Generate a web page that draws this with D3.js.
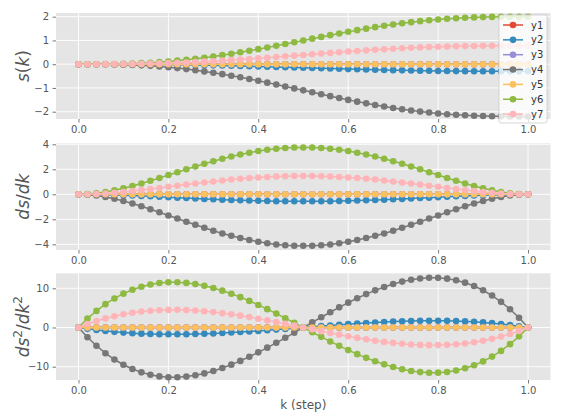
<!DOCTYPE html>
<html>
<head>
<meta charset="utf-8">
<script src="https://cdn.jsdelivr.net/npm/d3@7"></script>
<style>
  html, body { margin: 0; padding: 0; background: #ffffff; }
  svg { display: block; }
  text { font-family: "DejaVu Sans", sans-serif; }
</style>
</head>
<body>
<svg id="chart" width="564" height="417"></svg>
<script>
// ---------------- data ----------------
const kValues = [0,0.02,0.04,0.06,0.08,0.1,0.12,0.14,0.16,0.18,0.2,0.22,0.24,0.26,0.28,0.3,0.32,0.34,0.36,0.38,0.4,0.42,0.44,0.46,0.48,0.5,0.52,0.54,0.56,0.58,0.6,0.62,0.64,0.66,0.68,0.7,0.72,0.74,0.76,0.78,0.8,0.82,0.84,0.86,0.88,0.9,0.92,0.94,0.96,0.98,1];

const seriesNames = ["y1","y2","y3","y4","y5","y6","y7"];
const seriesColors = ["#E24A33","#348ABD","#988ED5","#777777","#FBC15E","#8EBA42","#FFB5B8"];

const flatZero = [0,0,0,0,0,0,0,0,0,0,0,0,0,0,0,0,0,0,0,0,0,0,0,0,0,0,0,0,0,0,0,0,0,0,0,0,0,0,0,0,0,0,0,0,0,0,0,0,0,0,0];

// panel 1: s(k)
const sY2 = [0,0,0,-0.001,-0.001,-0.003,-0.004,-0.007,-0.010,-0.013,-0.017,-0.022,-0.028,-0.034,-0.041,-0.049,-0.057,-0.066,-0.075,-0.085,-0.095,-0.106,-0.117,-0.128,-0.139,-0.150,-0.161,-0.172,-0.183,-0.194,-0.205,-0.215,-0.225,-0.234,-0.243,-0.251,-0.259,-0.266,-0.272,-0.278,-0.283,-0.287,-0.290,-0.293,-0.296,-0.297,-0.299,-0.299,-0.300,-0.300,-0.300];
const sY4 = [0,0,-0.001,-0.004,-0.010,-0.019,-0.032,-0.048,-0.070,-0.096,-0.127,-0.164,-0.205,-0.252,-0.303,-0.359,-0.419,-0.484,-0.552,-0.624,-0.698,-0.776,-0.855,-0.936,-1.018,-1.100,-1.182,-1.264,-1.345,-1.424,-1.502,-1.576,-1.648,-1.716,-1.781,-1.841,-1.897,-1.948,-1.995,-2.036,-2.073,-2.104,-2.130,-2.152,-2.168,-2.181,-2.190,-2.196,-2.199,-2.200,-2.200];
const sY6 = [0,0,0.001,0.004,0.009,0.017,0.029,0.044,0.064,0.087,0.116,0.149,0.187,0.229,0.275,0.326,0.381,0.440,0.502,0.567,0.635,0.705,0.777,0.851,0.925,1.000,1.075,1.149,1.223,1.295,1.365,1.433,1.498,1.560,1.619,1.674,1.725,1.771,1.813,1.851,1.884,1.913,1.936,1.956,1.971,1.983,1.991,1.996,1.999,2.000,2.000];
const sY7 = [0,0,0,0.002,0.004,0.007,0.011,0.017,0.025,0.034,0.045,0.058,0.073,0.089,0.107,0.127,0.149,0.171,0.196,0.221,0.248,0.275,0.303,0.332,0.361,0.390,0.419,0.448,0.477,0.505,0.532,0.559,0.584,0.609,0.631,0.653,0.673,0.691,0.707,0.722,0.735,0.746,0.755,0.763,0.769,0.773,0.776,0.778,0.780,0.780,0.780];

// panel 2: ds/dk
const dY2 = [0,0,-0.01,-0.03,-0.05,-0.07,-0.10,-0.13,-0.16,-0.20,-0.23,-0.27,-0.30,-0.33,-0.37,-0.40,-0.43,-0.45,-0.48,-0.50,-0.52,-0.53,-0.55,-0.56,-0.56,-0.56,-0.56,-0.56,-0.55,-0.53,-0.52,-0.50,-0.48,-0.45,-0.43,-0.40,-0.37,-0.33,-0.30,-0.27,-0.23,-0.20,-0.16,-0.13,-0.10,-0.07,-0.05,-0.03,-0.01,0,0];
const dY4 = [0,-0.03,-0.10,-0.21,-0.36,-0.53,-0.74,-0.96,-1.19,-1.44,-1.69,-1.94,-2.20,-2.44,-2.68,-2.91,-3.13,-3.32,-3.50,-3.66,-3.80,-3.92,-4.01,-4.07,-4.11,-4.12,-4.11,-4.07,-4.01,-3.92,-3.80,-3.66,-3.50,-3.32,-3.13,-2.91,-2.68,-2.44,-2.20,-1.94,-1.69,-1.44,-1.19,-0.96,-0.74,-0.53,-0.36,-0.21,-0.10,-0.03,0];
const dY6 = [0,0.02,0.09,0.19,0.33,0.49,0.67,0.87,1.08,1.31,1.54,1.77,2.00,2.22,2.44,2.65,2.84,3.02,3.19,3.33,3.46,3.56,3.64,3.70,3.74,3.75,3.74,3.70,3.64,3.56,3.46,3.33,3.19,3.02,2.84,2.65,2.44,2.22,2.00,1.77,1.54,1.31,1.08,0.87,0.67,0.49,0.33,0.19,0.09,0.02,0];
const dY7 = [0,0.01,0.03,0.07,0.13,0.19,0.26,0.34,0.42,0.51,0.60,0.69,0.78,0.87,0.95,1.03,1.11,1.18,1.24,1.30,1.35,1.39,1.42,1.44,1.46,1.46,1.46,1.44,1.42,1.39,1.35,1.30,1.24,1.18,1.11,1.03,0.95,0.87,0.78,0.69,0.60,0.51,0.42,0.34,0.26,0.19,0.13,0.07,0.03,0.01,0];

// panel 3: ds^2/dk^2
const ddY2 = [0,-0.34,-0.64,-0.89,-1.11,-1.30,-1.44,-1.56,-1.65,-1.70,-1.73,-1.73,-1.71,-1.66,-1.60,-1.51,-1.41,-1.29,-1.16,-1.02,-0.86,-0.70,-0.53,-0.36,-0.18,0,0.18,0.36,0.53,0.70,0.86,1.02,1.16,1.29,1.41,1.51,1.60,1.66,1.71,1.73,1.73,1.70,1.65,1.56,1.44,1.30,1.11,0.89,0.64,0.34,0];
const ddY4 = [0,-2.48,-4.66,-6.55,-8.16,-9.50,-10.59,-11.44,-12.06,-12.47,-12.67,-12.68,-12.52,-12.19,-11.71,-11.09,-10.34,-9.48,-8.52,-7.46,-6.34,-5.14,-3.90,-2.62,-1.32,0,1.32,2.62,3.90,5.14,6.34,7.46,8.52,9.48,10.34,11.09,11.71,12.19,12.52,12.68,12.67,12.47,12.06,11.44,10.59,9.50,8.16,6.55,4.66,2.48,0];
const ddY6 = [0,2.26,4.24,5.96,7.42,8.64,9.63,10.40,10.97,11.34,11.52,11.53,11.38,11.08,10.64,10.08,9.40,8.62,7.74,6.79,5.76,4.68,3.55,2.38,1.20,0,-1.20,-2.38,-3.55,-4.68,-5.76,-6.79,-7.74,-8.62,-9.40,-10.08,-10.64,-11.08,-11.38,-11.53,-11.52,-11.34,-10.97,-10.40,-9.63,-8.64,-7.42,-5.96,-4.24,-2.26,0];
const ddY7 = [0,0.88,1.65,2.32,2.89,3.37,3.76,4.06,4.28,4.42,4.49,4.50,4.44,4.32,4.15,3.93,3.67,3.36,3.02,2.65,2.25,1.82,1.38,0.93,0.47,0,-0.47,-0.93,-1.38,-1.82,-2.25,-2.65,-3.02,-3.36,-3.67,-3.93,-4.15,-4.32,-4.44,-4.50,-4.49,-4.42,-4.28,-4.06,-3.76,-3.37,-2.89,-2.32,-1.65,-0.88,0];

const xTicks = [0,0.2,0.4,0.6,0.8,1.0];
const yTicksS = [-2,-1,0,1,2];
const yTicksD = [-4,-2,0,2,4];
const yTicksDD = [-10,0,10];
const xLabelText = "k (step)";

// ---------------- layout ----------------
const svg = d3.select("#chart");
const plotLeft = 56, plotRight = 550.5;
const x = d3.scaleLinear().domain([-0.05, 1.05]).range([plotLeft, plotRight]);
const fmtX = d3.format(".1f");
const fmtY = v => (v < 0 ? "\u2212" + Math.abs(v) : String(v));

const panels = [
  { top: 13, bottom: 119, domain: [-2.307, 2.156], ticks: yTicksS,
    series: [flatZero, sY2, flatZero, sY4, flatZero, sY6, sY7],
    label: [["s","italic"],["(","normal"],["k","italic"],[")","normal"]], legend: true },
  { top: 143.3, bottom: 250, domain: [-4.456, 4.08], ticks: yTicksD,
    series: [flatZero, dY2, flatZero, dY4, flatZero, dY6, dY7],
    label: [["ds","italic"],["/","normal"],["dk","italic"]] },
  { top: 273.3, bottom: 380, domain: [-13.39, 13.83], ticks: yTicksDD,
    series: [flatZero, ddY2, flatZero, ddY4, flatZero, ddY6, ddY7],
    label: [["ds","italic"],["2","sup"],["/","normal"],["dk","italic"],["2","sup"]] }
];

const tickColor = "#555555";

panels.forEach((p, pi) => {
  const y = d3.scaleLinear().domain(p.domain).range([p.bottom, p.top]);
  const g = svg.append("g");

  // background
  g.append("rect").attr("x", plotLeft).attr("y", p.top)
    .attr("width", plotRight - plotLeft).attr("height", p.bottom - p.top)
    .attr("fill", "#E5E5E5");

  // grid
  g.selectAll(".gx").data(xTicks).join("line")
    .attr("x1", d => x(d)).attr("x2", d => x(d))
    .attr("y1", p.top).attr("y2", p.bottom)
    .attr("stroke", "#ffffff").attr("stroke-width", 0.9);
  g.selectAll(".gy").data(p.ticks).join("line")
    .attr("x1", plotLeft).attr("x2", plotRight)
    .attr("y1", d => y(d)).attr("y2", d => y(d))
    .attr("stroke", "#ffffff").attr("stroke-width", 0.9);

  // axes via d3
  const xAxis = d3.axisBottom(x).tickValues(xTicks).tickFormat(fmtX).tickSize(3.5).tickPadding(3.5);
  const gx = g.append("g").attr("transform", `translate(0,${p.bottom})`).call(xAxis);
  const yAxis = d3.axisLeft(y).tickValues(p.ticks).tickFormat(fmtY).tickSize(3.5).tickPadding(3.5);
  const gy = g.append("g").attr("transform", `translate(${plotLeft},0)`).call(yAxis);
  [gx, gy].forEach(a => {
    a.select(".domain").remove();
    a.selectAll(".tick line").attr("stroke", tickColor).attr("stroke-width", 0.8);
    a.selectAll(".tick text").attr("fill", tickColor)
      .attr("font-size", "10px").attr("font-family", "DejaVu Sans, sans-serif");
  });

  // series
  const line = d3.line().x((d, i) => x(kValues[i])).y(d => y(d));
  p.series.forEach((vals, si) => {
    const sg = g.append("g");
    sg.append("path").attr("d", line(vals)).attr("fill", "none")
      .attr("stroke", seriesColors[si]).attr("stroke-width", 1.5);
    sg.selectAll("circle").data(vals).join("circle")
      .attr("cx", (d, i) => x(kValues[i])).attr("cy", d => y(d))
      .attr("r", 3.3).attr("fill", seriesColors[si]);
  });

  // y label
  const cy = (p.top + p.bottom) / 2;
  const t = svg.append("text")
    .attr("transform", `translate(29,${cy}) rotate(-90)`)
    .attr("text-anchor", "middle").attr("font-size", "17px").attr("fill", tickColor);
  let sup = false;
  p.label.forEach(([txt, style]) => {
    const ts = t.append("tspan").text(txt);
    if (style === "italic") ts.attr("font-style", "italic");
    if (style === "sup") { ts.attr("font-size", "12px").attr("dy", "-0.55em"); sup = true; }
    else if (sup) { ts.attr("dy", "0.385em"); sup = false; }
  });

  // legend
  if (p.legend) {
    const lg = svg.append("g");
    const lx = 499, ly = 15, lw = 48, lh = 108;
    lg.append("rect").attr("x", lx).attr("y", ly).attr("width", lw).attr("height", lh)
      .attr("rx", 2).attr("fill", "#ffffff").attr("fill-opacity", 0.8)
      .attr("stroke", "#cccccc").attr("stroke-width", 0.8);
    seriesNames.forEach((name, si) => {
      const ry = 25 + si * 14.85;
      lg.append("line").attr("x1", 503).attr("x2", 523).attr("y1", ry).attr("y2", ry)
        .attr("stroke", seriesColors[si]).attr("stroke-width", 1.5);
      lg.append("circle").attr("cx", 513).attr("cy", ry).attr("r", 3.3).attr("fill", seriesColors[si]);
      lg.append("text").attr("x", 531).attr("y", ry + 3.6).attr("font-size", "10px")
        .attr("fill", "#333333").text(name);
    });
  }
});

// x label
svg.append("text").attr("x", 303.3).attr("y", 408.5).attr("text-anchor", "middle")
  .attr("font-size", "12px").attr("fill", tickColor).text(xLabelText);
</script>
</body>
</html>
